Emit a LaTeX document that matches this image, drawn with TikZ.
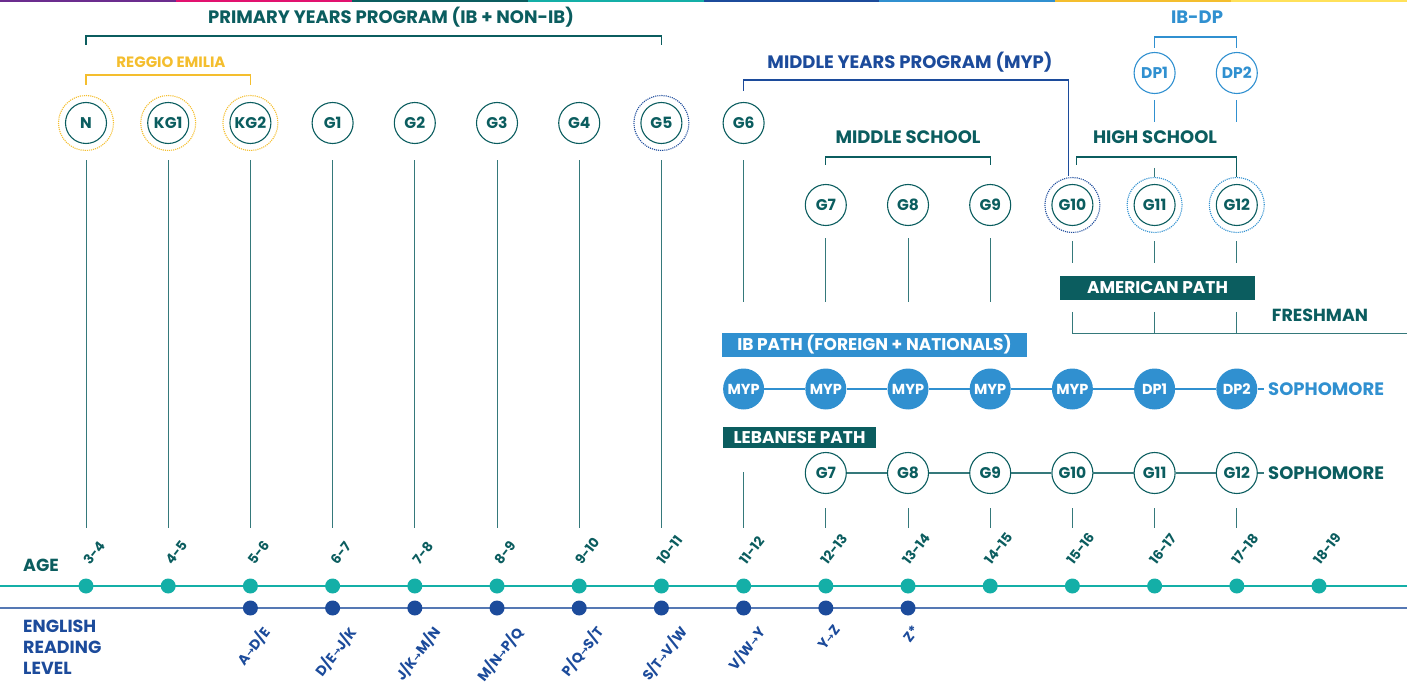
\documentclass[tikz,border=0pt]{standalone}
\usepackage{fontspec}
\setmainfont{Poppins}
\newfontfamily\symfont{DejaVu Sans}
\usetikzlibrary{calc}
\definecolor{dteal}{HTML}{0B5D5F}
\definecolor{lteal}{HTML}{35797B}
\definecolor{ageteal}{HTML}{14AFA7}
\definecolor{dblue}{HTML}{1C4B9B}
\definecolor{lblue}{HTML}{3090D0}
\definecolor{ryellow}{HTML}{F4BE2E}
\definecolor{barpurple}{HTML}{6B2C8E}
\definecolor{barmagenta}{HTML}{E2126F}
\definecolor{barlyellow}{HTML}{FFE15A}
\def\fs#1{\fontsize{#1}{#1}\selectfont}
\def\ra{{\symfont\bfseries\fs{10}\raisebox{0.5pt}{→}}}

\begin{document}
\begin{tikzpicture}[x=1pt,y=-1pt,line cap=butt,font=\bfseries,
  grade/.style={circle,draw=dteal,line width=1.1pt,minimum size=41pt,inner sep=0pt,text=dteal,font=\bfseries\fs{15.5}},
  dpc/.style={grade,draw=lblue,text=lblue},
  ibdot/.style={circle,fill=lblue,minimum size=41pt,inner sep=0pt,text=white,font=\bfseries\fs{14.5}},
  ring/.style={circle,draw=#1,densely dotted,line width=1.1pt,minimum size=55pt,inner sep=0pt},
  head/.style={inner sep=0pt,text=#1,font=\bfseries\fs{18}},
  pathbox/.style={fill=#1,text=white,inner sep=0pt,font=\bfseries\fs{17}},
  brk/.style={draw=#1,line width=1.2pt},
  vline/.style={draw=lteal,line width=1pt},
  adot/.style={circle,fill=ageteal,minimum size=15pt,inner sep=0pt},
  edot/.style={circle,fill=dblue,minimum size=15pt,inner sep=0pt},
  agetxt/.style={inner sep=0pt,text=dteal,font=\bfseries\fs{13.5}},
  rdtxt/.style={inner sep=0pt,text=dblue,font=\bfseries\fs{14}}]
\useasboundingbox (0,0) rectangle (1407,684);
% colour strip on top
\foreach \c [count=\k from 0] in {barpurple,barmagenta,dteal,ageteal,dblue,lblue,ryellow,barlyellow}
  \fill[\c] ({175.875*\k},0) rectangle ++(175.875,2.5);

% grades
\foreach \t [count=\i from 0] in {N,KG1,KG2,G1,G2,G3,G4,G5,G6}
  \node[grade] (t\i) at ({86+82.2*\i},123) {\t};
\foreach \i in {0,1,2} \node[ring=ryellow] at (t\i) {};
\node[ring=dblue] at (t7) {};
\foreach \t [count=\i from 9] in {G7,G8,G9,G10,G11,G12}
  \node[grade] (m\i) at ({86+82.2*\i},205) {\t};
\node[ring=dblue] at (m12) {};
\node[ring=lblue] at (m13) {};
\node[ring=lblue] at (m14) {};
\node[dpc] (dp1) at (m13 |- 0,73) {DP1};
\node[dpc] (dp2) at (m14 |- 0,73) {DP2};

% programs
\node[head=dteal] (pyp) at (391,17) {PRIMARY YEARS PROGRAM (IB + NON-IB)};
\draw[brk=dteal] (t0 |- 0,45) -- (t0 |- 0,36) -| (t7 |- 0,45);
\node[head=ryellow,font=\bfseries\fs{15}] (reggio) at (171,62) {REGGIO EMILIA};
\draw[brk=ryellow] (t0 |- 0,85) -- (t0 |- 0,75) -| (t2 |- 0,85);
\node[head=dblue] (myp) at (910,62) {MIDDLE YEARS PROGRAM (MYP)};
\draw[brk=dblue] (t8 |- 0,91) -- (t8 |- 0,80) -| ($(m12.north)+(-4,-8)$);
\node[head=lblue] (ibdp) at (1197,17) {IB-DP};
\draw[brk=lblue] (dp1 |- 0,48) -- (dp1 |- 0,37) -| (dp2 |- 0,48);
\draw[brk=lblue] ($(dp1.south)+(0,6)$) -- ++(0,22);
\draw[brk=lblue] ($(dp2.south)+(0,6)$) -- ++(0,22);
\node[head=dteal] (midsch) at (908,137) {MIDDLE SCHOOL};
\draw[brk=dteal] (m9 |- 0,165) -- (m9 |- 0,157) -| (m11 |- 0,165);
\node[head=dteal] (highsch) at (1155,137) {HIGH SCHOOL};
\draw[brk=dteal] ($(m12 |- 0,165)+(4,0)$) -- ($(m12 |- 0,157)+(4,0)$) -| ($(m14.north)+(0,-7)$);
\draw[vline] (m13 |- 0,168) -- ($(m13.north)+(0,-7)$);

% paths
\node[pathbox=dteal,minimum width=195pt,minimum height=24pt] (amer) at (1157.5,288) {AMERICAN PATH};
\node[head=dteal,font=\bfseries\fs{17.5}] (fresh) at (1320,315) {FRESHMAN};
\node[pathbox=lblue,minimum width=305pt,minimum height=24pt] (ibpath) at (874.5,345) {IB PATH (FOREIGN + NATIONALS)};
\node[pathbox=dteal,minimum width=153pt,minimum height=21pt] (lebpath) at (799.5,437.5) {LEBANESE PATH};
\foreach \t [count=\i from 8] in {MYP,MYP,MYP,MYP,MYP,DP1,DP2}
  \node[ibdot] (b\i) at ({86+82.2*\i},389) {\t};
\foreach \i [evaluate=\i as \j using int(\i+1)] in {8,...,13}
  \draw[brk=lblue] (b\i) -- (b\j);
\node[head=lblue,anchor=west,inner xsep=4pt] (soph1) at (1264,389) {SOPHOMORE};
\draw[brk=lblue] (b14) -- (soph1);
\foreach \t [count=\i from 9] in {G7,G8,G9,G10,G11,G12}
  \node[grade] (l\i) at ({86+82.2*\i},473) {\t};
\foreach \i [evaluate=\i as \j using int(\i+1)] in {9,...,13}
  \draw[brk=lteal] (l\i) -- (l\j);
\node[head=dteal,anchor=west,inner xsep=4pt] (soph2) at (1264,473) {SOPHOMORE};
\draw[brk=lteal] (l14) -- (soph2);

% age and reading level
\coordinate (agestart) at (0,586);
\coordinate (ageend) at (1407,586);
\coordinate (engstart) at (0,608);
\coordinate (engend) at (1407,608);
\draw[ageteal,line width=1.3pt] (agestart) -- (ageend);
\draw[dblue!75,line width=1.6pt] (engstart) -- (engend);
\node[head=dteal,anchor=west,font=\bfseries\fs{17.5}] (agelbl) at (23,565) {AGE};
\node[head=dblue,anchor=north west,align=left,font=\bfseries\fontsize{17.5}{21}\selectfont] (englbl) at (23,620) {ENGLISH\\READING\\LEVEL};
\foreach \t [count=\i from 0] in {3-4,4-5,5-6,6-7,7-8,8-9,9-10,10-11,11-12,12-13,13-14,14-15,15-16,16-17,17-18,18-19}{
  \node[adot] (a\i) at ({86+82.2*\i},586) {};
  \node[agetxt,anchor=south] (at\i) at ($(a\i)+(8,-20)$) {\rotatebox{52}{\t}};
  \coordinate (e\i) at ($(a\i)+(0,-58)$);
}
\foreach \t [count=\i from 2] in {{A\ra D/E},{D/E\ra J/K},{J/K\ra M/N},{M/N\ra P/Q},{P/Q\ra S/T},{S/T\ra V/W},{V/W\ra Y},{Y\ra Z},{Z*}}{
  \node[edot] (d\i) at ({86+82.2*\i},608) {};
  \node[rdtxt,anchor=north] (r\i) at ($(d\i)+(3,16)$) {\rotatebox{52}{\t}};
}

% year lines
\foreach \i in {0,...,7} \draw[vline] ($(t\i.south)+(0,16)$) -- (e\i);
\coordinate (g6top) at (t8 |- 0,302);
\coordinate (g6low) at (t8 |- 0,472);
\draw[vline] ($(t8.south)+(0,16)$) -- (g6top);
\draw[vline] (g6low) -- (e8);
\foreach \i in {9,10,11} \draw[vline] ($(m\i.south)+(0,12)$) -- (m\i |- 0,302);
\foreach \i in {12,13,14} \draw[vline] ($(m\i.south)+(0,15)$) -- (m\i |- 0,263);
\coordinate (freshend) at (1407,333);
\draw[vline] (m12 |- 0,312) -- (m12 |- 0,333) -- (freshend);
\draw[vline] (m13 |- 0,312) -- (m13 |- 0,333);
\draw[vline] (m14 |- 0,312) -- (m14 |- 0,333);
\foreach \i in {9,...,14} \draw[vline] ($(l\i.south)+(0,14)$) -- (e\i);
\end{tikzpicture}
\end{document}
